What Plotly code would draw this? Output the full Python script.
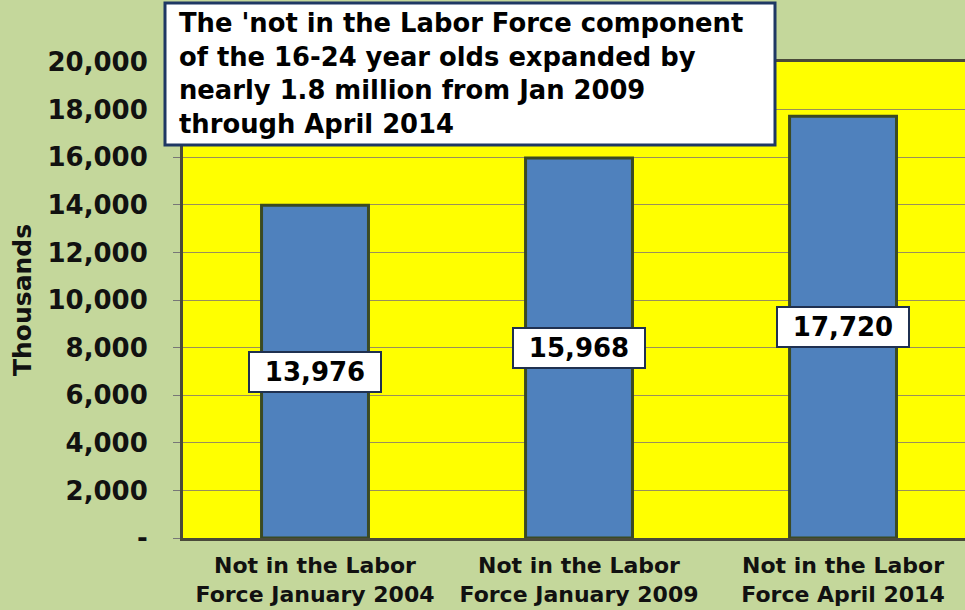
import plotly.graph_objects as go

categories = ["Not in the Labor<br>Force January 2004",
              "Not in the Labor<br>Force January 2009",
              "Not in the Labor<br>Force April 2014"]
values = [13976, 15968, 17720]
label_texts = ["13,976", "15,968", "17,720"]
ytick_vals = [0, 2000, 4000, 6000, 8000, 10000, 12000, 14000, 16000, 18000, 20000]
ytick_text = ["-", "2,000", "4,000", "6,000", "8,000", "10,000", "12,000",
              "14,000", "16,000", "18,000", "20,000"]
title_text = ("The 'not in the Labor Force component<br>"
              "of the 16-24 year olds expanded by<br>"
              "nearly 1.8 million from Jan 2009<br>"
              "through April 2014")

FONT = "DejaVu Sans"
L, T, B = 183, 62, 538
W, H = 965, 610
PW = W - L
PH = B - T

def px(x):
    return (x - L) / PW

def py(y):
    return (B - y) / PH

fig = go.Figure()
fig.add_trace(go.Bar(
    x=list(range(len(categories))), y=values,
    width=0.405,
    marker=dict(color="#4f81bd", line=dict(color="#3b4a23", width=3)),
    hoverinfo="skip",
))

for i, (v, t) in enumerate(zip(values, label_texts)):
    fig.add_annotation(
        x=i, y=v / 2, xref="x", yref="y", text="<b>" + t + "</b>",
        showarrow=False, font=dict(family=FONT, size=26, color="black"),
        bgcolor="white", bordercolor="#1f3050", borderwidth=2, borderpad=2,
        width=126, height=34,
    )

# title box
fig.add_shape(type="rect", xref="paper", yref="paper",
              x0=px(165), x1=px(775), y0=py(145), y1=py(3),
              fillcolor="white", line=dict(color="#1f3864", width=3), layer="above")
fig.add_annotation(
    xref="paper", yref="paper", x=px(177), y=py(73), xanchor="left", yanchor="middle",
    text="<b>" + title_text + "</b>", align="left", showarrow=False,
    font=dict(family=FONT, size=25.8, color="black"),
)

fig.update_layout(
    width=W, height=H,
    margin=dict(l=L, r=0, t=T, b=H - B, autoexpand=False),
    paper_bgcolor="#c4d79b",
    plot_bgcolor="#ffff00",
    showlegend=False,
    font=dict(family=FONT, color="black"),
)
fig.update_xaxes(
    tickvals=list(range(len(categories))), ticktext=["<b>" + c + "</b>" for c in categories],
    range=[-0.5, 2.462], tickfont=dict(family=FONT, size=22, color="#111"),
    showline=True, linecolor="#4a4a3a", linewidth=3, mirror=True,
    ticks="", showgrid=False, automargin=False, ticklabelstandoff=6,
)
fig.update_yaxes(
    range=[0, 20000], tickvals=ytick_vals, ticktext=["<b>" + t + "</b>" for t in ytick_text],
    tickfont=dict(family=FONT, size=26, color="#111"),
    showline=True, linecolor="#4a4a3a", linewidth=3,
    ticks="outside", ticklen=7, tickcolor="#777",
    ticklabelstandoff=20, automargin=False,
    showgrid=True, gridcolor="#9a8f5a", gridwidth=1, zeroline=False,
    title=dict(text="<b>Thousands</b>", font=dict(family=FONT, size=25, color="#111"), standoff=9),
)

fig.write_html("out.html", config={"displayModeBar": False},
               post_script="document.body.style.margin='0';document.body.style.background='#c4d79b';")
